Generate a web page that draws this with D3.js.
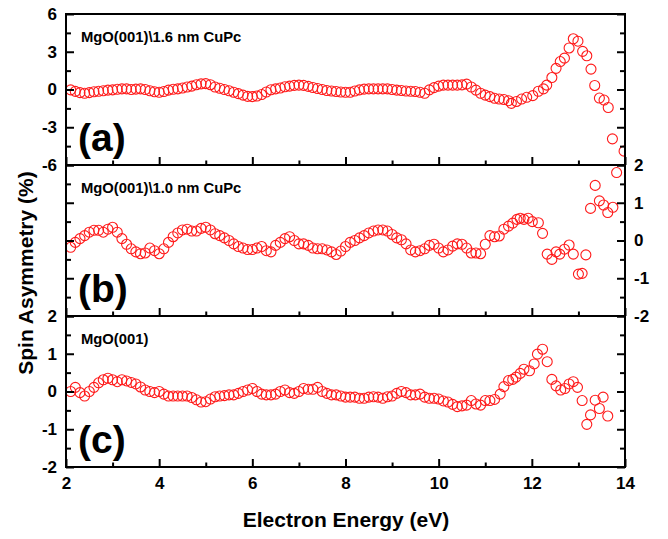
<!DOCTYPE html>
<html><head><meta charset="utf-8">
<script src="https://cdn.jsdelivr.net/npm/d3@7/dist/d3.min.js"></script>
<style>
body{margin:0;background:#fff}
text{font-family:"Liberation Sans",Arial,sans-serif;font-weight:bold;fill:#000}
</style>
</head><body>
<svg id="chart" width="668" height="539"></svg>
<script>
// ---------- data ----------
const gridEnergy = [2.1,2.2,2.3,2.4,2.5,2.6,2.7,2.8,2.9,3.0,
  3.1,3.2,3.3,3.4,3.5,3.6,3.7,3.8,3.9,4.0,
  4.1,4.2,4.3,4.4,4.5,4.6,4.7,4.8,4.9,5.0,
  5.1,5.2,5.3,5.4,5.5,5.6,5.7,5.8,5.9,6.0,
  6.1,6.2,6.3,6.4,6.5,6.6,6.7,6.8,6.9,7.0,
  7.1,7.2,7.3,7.4,7.5,7.6,7.7,7.8,7.9,8.0,
  8.1,8.2,8.3,8.4,8.5,8.6,8.7,8.8,8.9,9.0,
  9.1,9.2,9.3,9.4,9.5,9.6,9.7,9.8,9.9,10.0,
  10.1,10.2,10.3,10.4,10.5,10.6,10.7,10.8,10.9,11.0,
  11.1,11.2,11.3,11.4,11.5];

// (a) MgO(001)\1.6 nm CuPc
const denseA = [-0.03,-0.15,-0.25,-0.3,-0.25,-0.18,-0.14,-0.1,-0.05,-0.03,
  0.02,0.05,0.05,0,0.03,0.05,0,-0.1,-0.18,-0.22,
  -0.16,-0.05,0.02,0.05,0.12,0.2,0.27,0.38,0.45,0.47,
  0.38,0.2,0.1,0,-0.1,-0.22,-0.33,-0.45,-0.55,-0.57,
  -0.52,-0.4,-0.2,-0.02,0.05,0.12,0.22,0.27,0.33,0.35,
  0.33,0.25,0.16,0.08,0,-0.08,-0.12,-0.16,-0.2,-0.22,
  -0.22,-0.12,-0.03,0.03,0.05,0.05,0.05,0.05,0.05,0,
  -0.05,-0.08,-0.12,-0.14,-0.16,-0.22,-0.3,-0.03,0.15,0.27,
  0.35,0.35,0.35,0.35,0.37,0.43,0.2,-0.05,-0.3,-0.45,
  -0.57,-0.7,-0.76,-0.8,-0.89];
const tailEnergyA = [11.56,11.67,11.78,11.89,12.02,12.14,12.25,12.32,12.43,12.52,12.61,12.7,12.8,12.89,12.99,13.09,13.18,13.27,13.35,13.45,13.55,13.64,13.73,13.98];
const tailA = [-1.1,-0.95,-0.76,-0.62,-0.49,-0.14,0.05,0.35,0.95,1.68,2.22,2.49,3.3,4.03,3.84,3.03,2.68,1.62,0.32,-0.68,-0.84,-1.43,-3.92,-4.9];

// (b) MgO(001)\1.0 nm CuPc
const denseB = [-0.18,-0.05,0.05,0.13,0.22,0.27,0.27,0.22,0.3,0.35,
  0.22,0.05,-0.1,-0.22,-0.3,-0.35,-0.33,-0.2,-0.27,-0.35,
  -0.22,-0.05,0.1,0.2,0.28,0.3,0.25,0.25,0.32,0.35,
  0.28,0.18,0.13,0.07,0,-0.09,-0.16,-0.2,-0.24,-0.24,
  -0.2,-0.16,-0.27,-0.3,-0.13,-0.05,0.05,0.1,0,-0.09,
  -0.09,-0.13,-0.2,-0.22,-0.22,-0.25,-0.3,-0.37,-0.28,-0.16,
  -0.05,0,0.07,0.13,0.2,0.25,0.28,0.28,0.25,0.16,
  0.07,0.02,-0.09,-0.25,-0.3,-0.27,-0.22,-0.13,-0.1,-0.2,
  -0.3,-0.25,-0.15,-0.09,-0.1,-0.2,-0.33,-0.33,-0.35,-0.1,
  0.13,0.1];
const tailEnergyB = [11.3,11.4,11.5,11.59,11.68,11.75,11.83,11.92,12.01,12.14,12.23,12.33,12.43,12.52,12.6,12.7,12.8,12.89,13.0,13.08,13.16,13.26,13.36,13.45,13.54,13.63,13.74,13.82];
const tailB = [0.12,0.3,0.38,0.46,0.56,0.59,0.56,0.59,0.5,0.47,0.19,-0.36,-0.5,-0.3,-0.36,-0.23,-0.12,-0.36,-0.89,-0.87,-0.38,0.85,1.46,1.05,0.94,0.74,0.88,1.8];

// (c) MgO(001)
const denseC = [0,0.11,-0.03,-0.12,0,0.11,0.23,0.31,0.35,0.31,
  0.26,0.31,0.28,0.24,0.2,0.12,0.04,0,-0.03,0,
  -0.07,-0.12,-0.12,-0.12,-0.12,-0.12,-0.16,-0.22,-0.28,-0.27,
  -0.2,-0.14,-0.12,-0.11,-0.09,-0.09,-0.05,0,0.04,0.08,
  0,-0.07,-0.09,-0.09,-0.07,0,0.04,-0.03,-0.05,0,
  0.08,0.06,0.06,0.11,0,-0.05,-0.09,-0.09,-0.12,-0.15,
  -0.15,-0.15,-0.18,-0.18,-0.15,-0.14,-0.15,-0.18,-0.14,-0.12,
  -0.05,0,-0.03,-0.09,-0.09,-0.07,-0.15,-0.18,-0.18,-0.2,
  -0.25,-0.28,-0.34,-0.4,-0.38,-0.36,-0.24,-0.33,-0.36,-0.24,
  -0.24,-0.21];
const tailEnergyC = [11.32,11.4,11.5,11.59,11.66,11.75,11.83,11.95,12.05,12.12,12.23,12.33,12.43,12.52,12.62,12.71,12.8,12.89,12.98,13.08,13.18,13.26,13.36,13.45,13.53,13.63];
const tailC = [-0.07,0.13,0.29,0.32,0.38,0.48,0.59,0.55,0.73,0.99,1.12,0.79,0.32,0.15,0.04,0.08,0.2,0.26,0.11,-0.24,-0.87,-0.62,-0.23,-0.45,-0.15,-0.65];

const xMajor = [2,4,6,8,10,12,14];
const xMinor = [3,5,7,9,11,13];
const sampleNames = ["MgO(001)\\1.6 nm CuPc","MgO(001)\\1.0 nm CuPc","MgO(001)"];
const panelLetters = ["(a)","(b)","(c)"];
const yDomains = [[-6,6],[-2,2],[-2,2]];
const yMajor = [[-6,-3,0,3,6],[-2,-1,0,1,2],[-2,-1,0,1,2]];
const yMinor = [[-4.5,-1.5,1.5,4.5],[-1.5,-0.5,0.5,1.5],[-1.5,-0.5,0.5,1.5]];
const labelSide = ["left","right","left"];

function pairs(denseVals, tailE, tailV){
  const out = [];
  denseVals.forEach((v,i)=>out.push([gridEnergy[i], v]));
  tailE.forEach((e,i)=>out.push([e, tailV[i]]));
  return out;
}
const series = [pairs(denseA,tailEnergyA,tailA), pairs(denseB,tailEnergyB,tailB), pairs(denseC,tailEnergyC,tailC)];

// ---------- layout ----------
const left = 66, right = 625, top0 = 14, ph = 151;
const svg = d3.select("#chart");
const x = d3.scaleLinear().domain([2,14]).range([left,right]);
const fmt = d => String(d);

function styleAxis(g, w){
  g.select(".domain").remove();
  g.selectAll(".tick line").attr("stroke","#000").attr("stroke-width",w);
  g.selectAll("text").attr("font-size",17)
    .style("font-family",'"Liberation Sans",Arial,sans-serif').style("font-weight","bold");
}

series.forEach((data, p) => {
  const top = top0 + p*ph, bot = top + ph;
  const y = d3.scaleLinear().domain(yDomains[p]).range([bot, top]);
  const clipId = "clip"+p;
  svg.append("clipPath").attr("id",clipId).append("rect")
    .attr("x",left).attr("y",top).attr("width",right-left).attr("height",ph);

  // points
  svg.append("g").attr("clip-path",`url(#${clipId})`)
    .selectAll("circle").data(data).join("circle")
    .attr("cx",d=>x(d[0])).attr("cy",d=>y(d[1])).attr("r",5)
    .attr("fill","none").attr("stroke","#ff1a1a").attr("stroke-width",1.1);

  // y axes (left & right), ticks inward
  const lMaj = d3.axisLeft(y).tickValues(yMajor[p]).tickSize(-8).tickPadding(9)
    .tickFormat(labelSide[p]==="left"? fmt : "");
  const lMin = d3.axisLeft(y).tickValues(yMinor[p]).tickSize(-5).tickFormat("");
  const rMaj = d3.axisRight(y).tickValues(yMajor[p]).tickSize(-8).tickPadding(9)
    .tickFormat(labelSide[p]==="right"? fmt : "");
  const rMin = d3.axisRight(y).tickValues(yMinor[p]).tickSize(-5).tickFormat("");
  [[lMaj,left],[lMin,left],[rMaj,right],[rMin,right]].forEach(([ax,tx])=>{
    const g = svg.append("g").attr("transform",`translate(${tx},0)`).call(ax);
    styleAxis(g, 2);
  });

  // x ticks at bottom of each panel, inward
  const bMaj = d3.axisBottom(x).tickValues(xMajor).tickSize(-8).tickPadding(10)
    .tickFormat(p===2? fmt : "");
  const bMin = d3.axisBottom(x).tickValues(xMinor).tickSize(-4.5).tickFormat("");
  [bMaj,bMin].forEach(ax=>{
    const g = svg.append("g").attr("transform",`translate(0,${bot})`).call(ax);
    styleAxis(g, 2);
  });

  // frame
  svg.append("rect").attr("x",left).attr("y",top).attr("width",right-left).attr("height",ph)
    .attr("fill","none").attr("stroke","#000").attr("stroke-width",2);

  // annotations
  svg.append("text").attr("x",81).attr("y",top+28).attr("font-size",14.8).text(sampleNames[p]);
  svg.append("text").attr("x",78).attr("y",bot-14).attr("font-size",39).text(panelLetters[p]);
});

// axis titles
svg.append("text").attr("transform","translate(33,273) rotate(-90)")
  .attr("text-anchor","middle").attr("font-size",21).text("Spin Asymmetry (%)");
svg.append("text").attr("x",346).attr("y",527)
  .attr("text-anchor","middle").attr("font-size",21).text("Electron Energy (eV)");
</script>
</body></html>
